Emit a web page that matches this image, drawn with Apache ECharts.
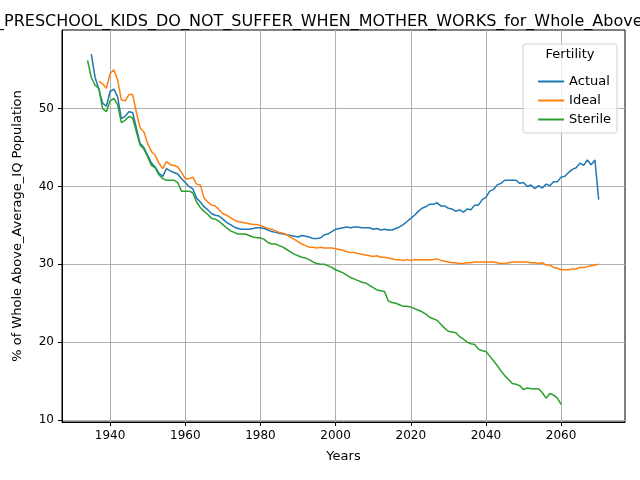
<!DOCTYPE html>
<html>
<head>
<meta charset="utf-8">
<script src="https://cdn.jsdelivr.net/npm/echarts@6/dist/echarts.min.js"></script>
<style>html,body{margin:0;padding:0;background:#fff}#chart{width:640px;height:480px}</style>
</head>
<body>
<div id="chart"></div>
<script>
// yearly values, each series starts at its own year
var actualStart = 1935;
var actual = [57, 54, 52.5, 50.7, 50.3, 52.2, 52.5, 51.5, 48.7, 49, 49.6, 49.5, 47.5, 45.5, 45, 44, 43, 42.5, 41.7, 41.3,
    42.3, 42, 41.8, 41.6, 41, 40.5, 40, 39.7, 38.5, 38, 37.4, 37, 36.5, 36.3, 36.2, 35.8, 35.4, 35.1, 34.8, 34.6,
    34.5, 34.5, 34.5, 34.6, 34.7, 34.7, 34.6, 34.4, 34.2, 34.1, 34, 33.9, 33.8, 33.7, 33.6, 33.5, 33.7, 33.6, 33.5, 33.3,
    33.3, 33.4, 33.8, 33.9, 34.2, 34.5, 34.6, 34.7, 34.8, 34.7, 34.8, 34.8, 34.7, 34.7, 34.7, 34.5, 34.6, 34.4, 34.5, 34.4,
    34.4, 34.6, 34.8, 35.1, 35.5, 35.9, 36.3, 36.8, 37.2, 37.4, 37.7, 37.7, 37.9, 37.5, 37.5, 37.2, 37.1, 36.8, 37, 36.7,
    37.1, 37, 37.6, 37.6, 38.3, 38.6, 39.4, 39.6, 40.2, 40.4, 40.8, 40.8, 40.8, 40.8, 40.4, 40.5, 40.0, 40.2, 39.7, 40.1,
    39.8, 40.3, 40.1, 40.6, 40.6, 41.2, 41.3, 41.8, 42.2, 42.4, 43, 42.7, 43.4, 42.8, 43.4, 38.3];
var idealStart = 1937;
var ideal = [53.5, 53.2, 52.6, 54.5, 55, 53.7, 51.1, 51, 51.8, 51.8, 49.5, 47.5, 47, 45.5, 44.5, 44, 43, 42.3, 43.2, 42.8,
    42.7, 42.5, 41.8, 41, 41, 41.2, 40.3, 40.2, 38.5, 38, 37.6, 37.5, 37, 36.5, 36.3, 36, 35.7, 35.5, 35.4, 35.3,
    35.2, 35.1, 35.1, 35, 34.8, 34.6, 34.5, 34.3, 34.1, 34, 33.8, 33.5, 33.2, 32.9, 32.6, 32.4, 32.2, 32.2, 32.1, 32.2,
    32.1, 32.1, 32.1, 32, 31.9, 31.8, 31.6, 31.5, 31.5, 31.4, 31.3, 31.2, 31.1, 31, 31.1, 30.9, 30.9, 30.8, 30.7, 30.6,
    30.6, 30.5, 30.6, 30.5, 30.6, 30.6, 30.6, 30.6, 30.6, 30.6, 30.7, 30.5, 30.4, 30.3, 30.2, 30.2, 30.1, 30.1, 30.2, 30.2,
    30.3, 30.3, 30.3, 30.3, 30.3, 30.3, 30.2, 30.1, 30.1, 30.2, 30.3, 30.3, 30.3, 30.3, 30.3, 30.2, 30.2, 30.1, 30.2, 29.9,
    29.9, 29.6, 29.5, 29.3, 29.3, 29.3, 29.4, 29.4, 29.6, 29.6, 29.7, 29.8, 29.9, 30];
var sterileStart = 1934;
var sterile = [56.2, 54, 53, 52.6, 50, 49.6, 51, 51.3, 50.5, 48.2, 48.5, 49, 48.8, 47, 45.3, 44.8, 43.8, 42.7, 42.4, 41.5,
    41, 40.8, 40.8, 40.8, 40.5, 39.4, 39.4, 39.4, 39.2, 38, 37.3, 36.8, 36.4, 35.9, 35.8, 35.5, 35.1, 34.7, 34.3, 34.1,
    33.9, 33.9, 33.9, 33.7, 33.5, 33.4, 33.4, 33.2, 32.8, 32.6, 32.6, 32.4, 32.2, 31.9, 31.6, 31.3, 31.1, 30.9, 30.8, 30.6,
    30.3, 30.1, 30, 30, 29.8, 29.6, 29.3, 29.1, 28.9, 28.6, 28.3, 28.1, 27.9, 27.7, 27.6, 27.3, 27, 26.7, 26.6, 26.5,
    25.3, 25.1, 25, 24.8, 24.6, 24.6, 24.5, 24.3, 24.1, 23.9, 23.6, 23.2, 23, 22.8, 22.3, 21.8, 21.4, 21.3, 21.2, 20.7,
    20.4, 20, 19.8, 19.7, 19.1, 18.9, 18.8, 18.2, 17.6, 17, 16.3, 15.7, 15.2, 14.7, 14.6, 14.4, 13.9, 14.1, 14, 14,
    14, 13.5, 12.8, 13.4, 13.2, 12.8, 12];
var xTicks = [1940, 1960, 1980, 2000, 2020, 2040, 2060];
var yTicks = [10, 20, 30, 40, 50];

function pairs(start, vals) {
    return vals.map(function (v, i) { return [start + i, v]; });
}

var chart = echarts.init(document.getElementById('chart'));
var font = 'DejaVu Sans';
var gridLine = { color: '#b0b0b0', type: 'solid', width: 1 };
var gridData = xTicks.map(function (t) { return { xAxis: t }; })
    .concat(yTicks.map(function (t) { return { yAxis: t }; }));
var option = {
    animation: false,
    textStyle: { fontFamily: font },
    grid: { left: 62, right: 15, top: 30, bottom: 58, show: true, borderColor: '#000', borderWidth: 1 },
    graphic: [
        { type: 'text', left: -4, top: 14, style: { text: '_PRESCHOOL_KIDS_DO_NOT_SUFFER_WHEN_MOTHER_WORKS_for_Whole_Above_Average_IQ', fontFamily: font, fontSize: 16, fill: '#000' } },
        { type: 'rect', shape: { x: 523, y: 44, width: 94, height: 89, r: 3 }, style: { fill: 'rgba(255,255,255,0.8)', stroke: '#d0d0d0' }, z: 10 },
        { type: 'text', x: 570, y: 48, style: { text: 'Fertility', fontFamily: font, fontSize: 13, fill: '#000', align: 'center' }, z: 11 }
    ],
    legend: {
        right: 24, top: 70, orient: 'vertical', itemGap: 6, itemWidth: 26, itemHeight: 13, z: 12,
        icon: 'path://M0,6L26,6L26,8L0,8Z',
        textStyle: { fontFamily: font, fontSize: 13, color: '#000' },
        data: ['Actual', 'Ideal', 'Sterile']
    },
    xAxis: {
        type: 'value', min: 1927.2, max: 2077,
        name: 'Years', nameLocation: 'middle', nameGap: 28,
        nameTextStyle: { fontFamily: font, fontSize: 13, color: '#000' },
        axisLine: { lineStyle: { color: '#000' } },
        axisTick: { show: true, length: 4, lineStyle: { color: '#000' }, customValues: xTicks },
        axisLabel: { fontFamily: font, fontSize: 12, color: '#000', customValues: xTicks, formatter: function (v) { return String(v); } },
        splitLine: { show: false }
    },
    yAxis: {
        type: 'value', min: 9.74, max: 60.1,
        name: '% of Whole Above_Average_IQ Population', nameLocation: 'middle', nameGap: 38,
        nameTextStyle: { fontFamily: font, fontSize: 13, color: '#000' },
        axisLine: { show: true, lineStyle: { color: '#000' } },
        axisTick: { show: true, length: 4, lineStyle: { color: '#000' }, customValues: yTicks },
        axisLabel: { fontFamily: font, fontSize: 12, color: '#000', customValues: yTicks },
        splitLine: { show: false }
    },
    series: [
        { name: 'Actual', type: 'line', showSymbol: false, color: '#1f77b4', lineStyle: { width: 1.5 }, data: pairs(actualStart, actual),
          markLine: { silent: true, symbol: 'none', label: { show: false }, lineStyle: gridLine, data: gridData, z: 0 } },
        { name: 'Ideal', type: 'line', showSymbol: false, color: '#ff7f0e', lineStyle: { width: 1.5 }, data: pairs(idealStart, ideal) },
        { name: 'Sterile', type: 'line', showSymbol: false, color: '#2ca02c', lineStyle: { width: 1.5 }, data: pairs(sterileStart, sterile) }
    ]
};
chart.setOption(option);
</script>
</body>
</html>
